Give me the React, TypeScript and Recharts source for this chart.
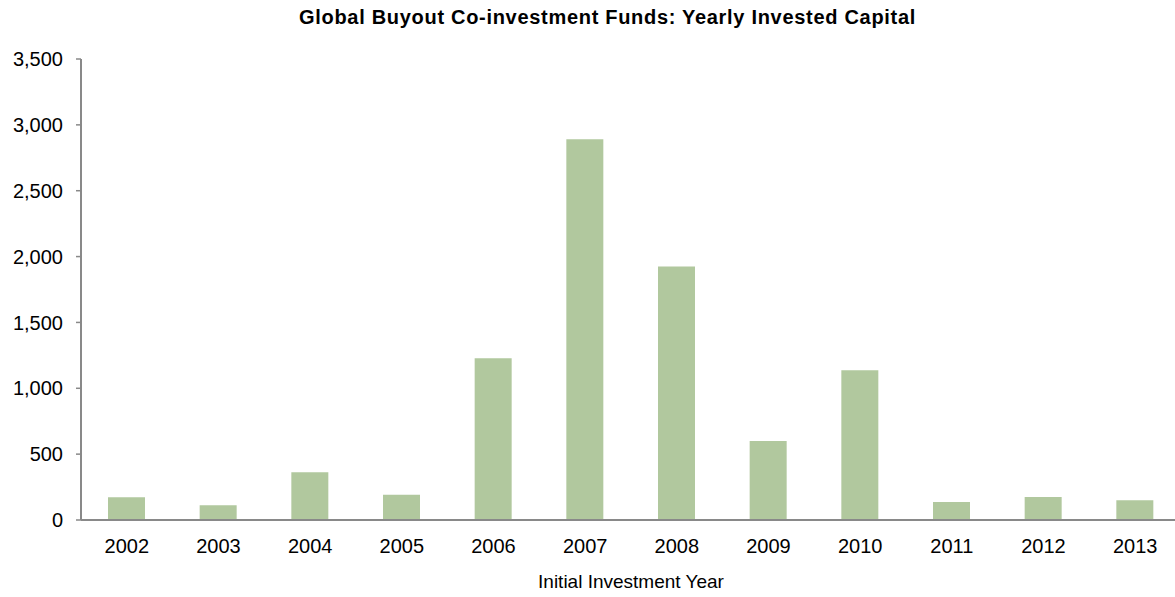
import React from 'react'
import { BarChart, Bar, XAxis, YAxis } from 'recharts'

const years: string[] = ['2002', '2003', '2004', '2005', '2006', '2007', '2008', '2009', '2010', '2011', '2012', '2013']
const invested: number[] = [172, 112, 362, 192, 1228, 2890, 1924, 600, 1137, 137, 175, 150]
const yTicks: number[] = [0, 500, 1000, 1500, 2000, 2500, 3000, 3500]

const data = years.map((year, i) => ({ year, invested: invested[i] }))

const font = 'Arial, "Liberation Sans", sans-serif'
const axisColor = '#898989'

export default function App() {
  return (
    <div style={{ width: 1175, height: 597, overflow: 'hidden', position: 'relative', background: '#fff', fontFamily: font }}>
      <style>{'html,body{margin:0;padding:0;overflow:hidden}'}</style>
      <div style={{ position: 'absolute', top: 6, left: 299, whiteSpace: 'nowrap', fontWeight: 'bold', fontSize: 20, letterSpacing: 0.7, color: '#000' }}>
        Global Buyout Co-investment Funds: Yearly Invested Capital
      </div>
      <BarChart width={1190} height={597} data={data} margin={{ top: 59, right: 9, bottom: 9, left: 0 }}>
        <XAxis
          dataKey="year"
          tickLine={false}
          axisLine={{ stroke: axisColor, strokeWidth: 2 }}
          tick={{ fill: '#000', fontSize: 20, fontFamily: font }}
          tickMargin={13}
          height={68}
          label={{ value: 'Initial Investment Year', position: 'insideBottom', offset: 0, fill: '#000', fontSize: 19, fontFamily: font }}
        />
        <YAxis
          domain={[0, 3500]}
          ticks={yTicks}
          interval={0}
          width={81}
          tickSize={5}
          tickMargin={13}
          tickLine={{ stroke: axisColor, strokeWidth: 1.5 }}
          axisLine={{ stroke: axisColor, strokeWidth: 2 }}
          tick={{ fill: '#000', fontSize: 20, fontFamily: font }}
          tickFormatter={(v: number) => v.toLocaleString('en-US')}
        />
        <Bar dataKey="invested" fill="#b1c89e" barSize={37} isAnimationActive={false} />
      </BarChart>
    </div>
  )
}
